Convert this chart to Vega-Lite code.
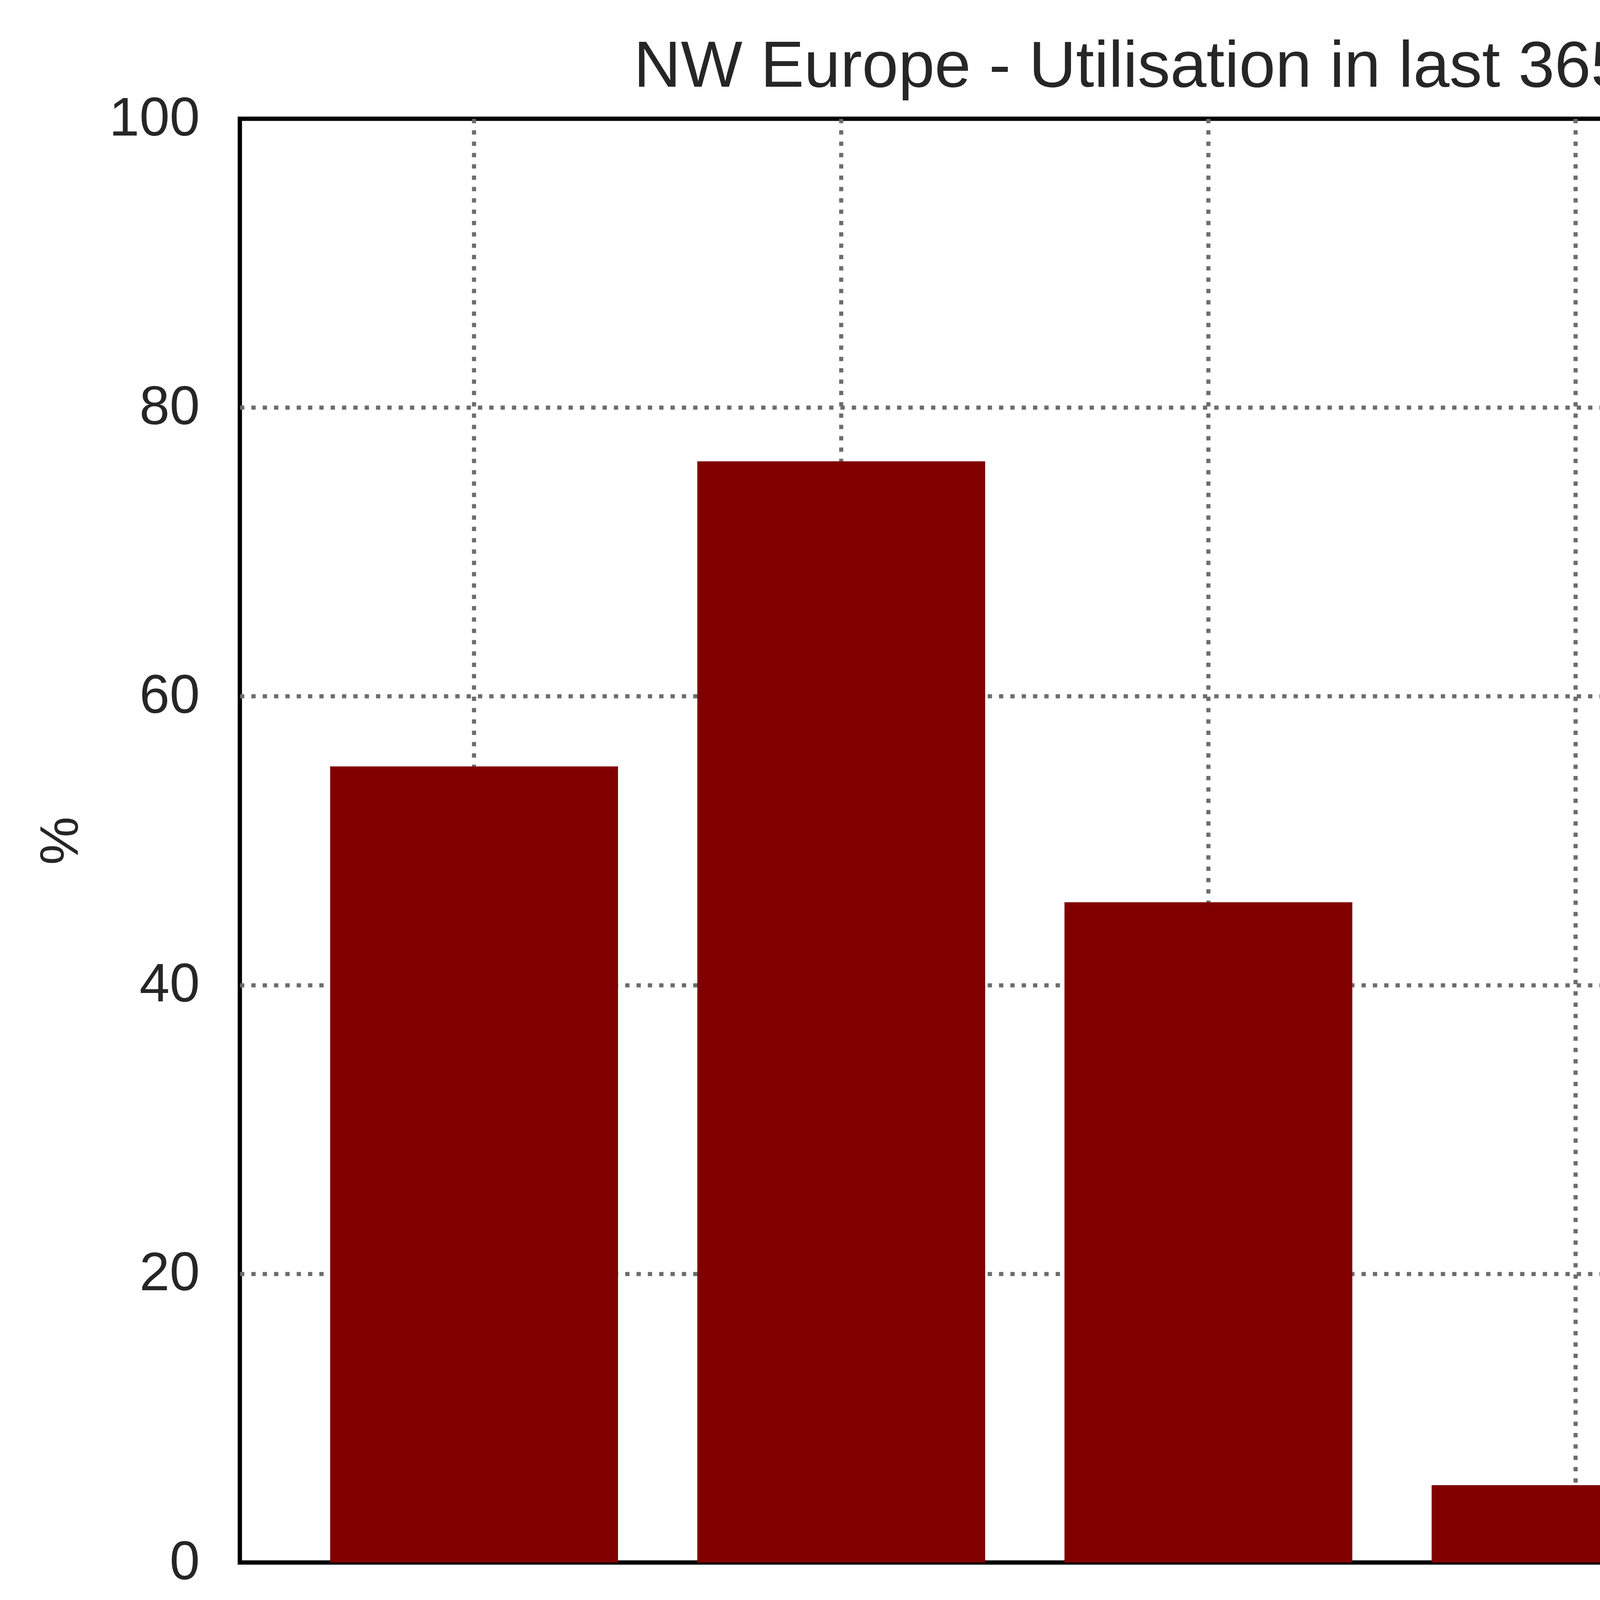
{
  "$schema": "https://vega.github.io/schema/vega-lite/v6.json",
  "autosize": "none",
  "width": 4959,
  "height": 3696,
  "padding": {"left": 614, "top": 304, "right": 101, "bottom": 1054},
  "background": "white",
  "data": {
    "values": [
      {"terminal": "Zeebrugge", "utilisation": 55.14},
      {"terminal": "Gate", "utilisation": 76.27},
      {"terminal": "Eemshaven", "utilisation": 45.73},
      {"terminal": "Isle of Grain", "utilisation": 5.36},
      {"terminal": "Milford Haven", "utilisation": 28.63}
    ]
  },
  "title": {
    "text": "NW Europe - Utilisation in last 365 days",
    "font": "Liberation Sans",
    "fontSize": 167,
    "fontWeight": "normal",
    "color": "#262626",
    "anchor": "middle",
    "frame": "group",
    "baseline": "bottom",
    "limit": 0,
    "offset": -189
  },
  "mark": {"type": "bar", "color": "#800000"},
  "encoding": {
    "x": {
      "field": "terminal",
      "type": "nominal",
      "sort": null,
      "scale": {"paddingInner": 0.216, "paddingOuter": 0.246},
      "axis": {
        "title": null,
        "labelAngle": -90,
        "labelFont": "Liberation Sans",
        "labelFontSize": 139,
        "labelColor": "#262626",
        "labelPadding": 102,
        "labelLimit": 0,
        "labelOverlap": false,
        "ticks": false,
        "tickSize": 0,
        "domain": false,
        "grid": true,
        "bandPosition": 0.5,
        "gridColor": "#6c6c6c",
        "gridWidth": 10.5,
        "gridDash": [11, 18],
        "gridOpacity": 1
      }
    },
    "y": {
      "field": "utilisation",
      "type": "quantitative",
      "scale": {"domain": [0, 100], "nice": false},
      "axis": {
        "title": "%",
        "titleFont": "Liberation Sans",
        "titleFontSize": 139,
        "titleFontWeight": "normal",
        "titleColor": "#262626",
        "titleX": -458,
        "titleY": 1848,
        "titleAlign": "center",
        "titleBaseline": "middle",
        "titleAngle": -90,
        "values": [0, 20, 40, 60, 80, 100],
        "labelFont": "Liberation Sans",
        "labelFontSize": 139,
        "labelColor": "#262626",
        "labelPadding": 103,
        "labelLimit": 0,
        "labelOverlap": false,
        "ticks": false,
        "tickSize": 0,
        "domain": false,
        "grid": true,
        "gridColor": "#6c6c6c",
        "gridWidth": 10.5,
        "gridDash": [11, 18],
        "gridOpacity": {
          "condition": {"test": "datum.value == 0 || datum.value == 100", "value": 0},
          "value": 1
        }
      }
    }
  },
  "config": {
    "view": {"stroke": "black", "strokeWidth": 11}
  }
}
